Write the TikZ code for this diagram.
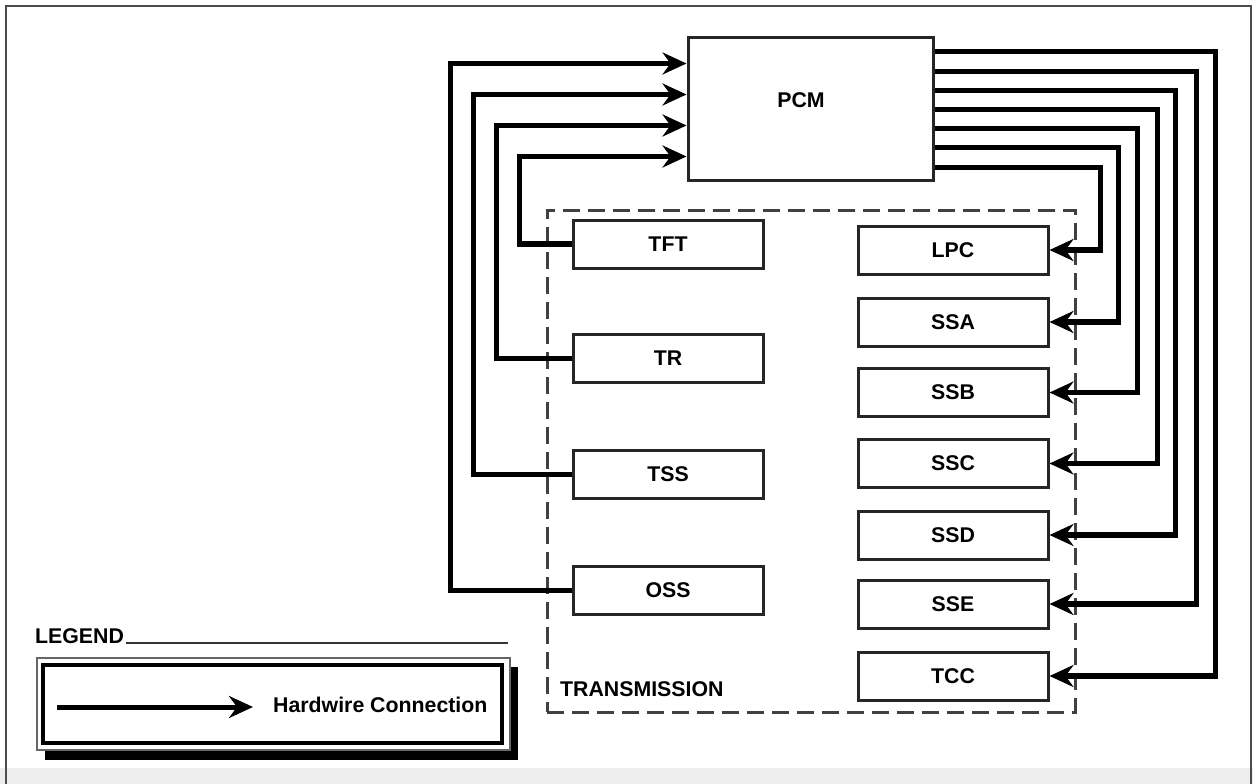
\documentclass[tikz,border=0pt]{standalone}
\usepackage{fontspec}
\setmainfont{Liberation Sans}
\usetikzlibrary{arrows.meta}
\newcommand{\labfont}{\fontsize{21.3}{25}\selectfont\bfseries}
\tikzset{
  box/.style={draw=black!85, line width=3pt, fill=white, minimum width=190pt,
    minimum height=48pt, inner sep=0pt, font=\labfont},
  tip/.style={-{Stealth[length=24pt,width=22pt,inset=8pt]}},
  wire/.style={line width=5.5pt, tip},
  txt/.style={font=\labfont, inner sep=0pt},
}
\begin{document}
\begin{tikzpicture}[x=1pt,y=-1pt]
\useasboundingbox (0,0) rectangle (1253,784);
\fill[white] (0,0) rectangle (1253,784);
\fill[black!7] (0,768) rectangle (1253,784);
\draw[black!70, line width=1.8pt] (6,784) -- (6,6) -- (1251,6) -- (1251,784);

% transmission dashed enclosure
\node[draw=black!75, dash pattern=on 17pt off 8pt, line width=3pt,
  minimum width=528pt, minimum height=502pt, inner sep=0pt] (trans) at (811,461) {};
\node[txt, anchor=west] (translabel) at (560,689) {TRANSMISSION};

% PCM
\node[box, minimum width=245pt, minimum height=142pt,
  label={[txt, xshift=-9.5pt, yshift=9pt]center:PCM}] (pcm) at (810.5,109) {};

% left boxes
\node[box] (tft) at (668,244) {TFT};
\node[box] (tr)  at (668,358.5) {TR};
\node[box] (tss) at (668,474.5) {TSS};
\node[box] (oss) at (668,590.5) {OSS};

% right boxes
\node[box] (lpc) at (953,250) {LPC};
\node[box] (ssa) at (953,322) {SSA};
\node[box] (ssb) at (953,392.5) {SSB};
\node[box] (ssc) at (953,463.5) {SSC};
\node[box] (ssd) at (953,535) {SSD};
\node[box] (sse) at (953,604) {SSE};
\node[box] (tcc) at (953,676) {TCC};

% inputs to PCM
\draw[wire] (tft.west) -| ([xshift=-167pt,yshift=-120pt]pcm.north west) -- ([yshift=-120pt]pcm.north west);
\draw[wire] (tr.west)  -| ([xshift=-190pt,yshift=-89pt]pcm.north west) -- ([yshift=-89pt]pcm.north west);
\draw[wire] (tss.west) -| ([xshift=-213pt,yshift=-58pt]pcm.north west) -- ([yshift=-58pt]pcm.north west);
\draw[wire] (oss.west) -| ([xshift=-236pt,yshift=-27pt]pcm.north west) -- ([yshift=-27pt]pcm.north west);

% outputs from PCM
\draw[wire] ([yshift=-131pt]pcm.north east) -| ([xshift=51pt]lpc.east) -- (lpc.east);
\draw[wire] ([yshift=-111pt]pcm.north east) -| ([xshift=69pt]ssa.east) -- (ssa.east);
\draw[wire] ([yshift=-92pt]pcm.north east)  -| ([xshift=88pt]ssb.east) -- (ssb.east);
\draw[wire] ([yshift=-73pt]pcm.north east)  -| ([xshift=108pt]ssc.east) -- (ssc.east);
\draw[wire] ([yshift=-54pt]pcm.north east)  -| ([xshift=126pt]ssd.east) -- (ssd.east);
\draw[wire] ([yshift=-35pt]pcm.north east)  -| ([xshift=147pt]sse.east) -- (sse.east);
\draw[wire] ([yshift=-15pt]pcm.north east)  -| ([xshift=166pt]tcc.east) -- (tcc.east);

% legend
\node[txt, anchor=base west] (legend) at (35,643) {LEGEND};
\draw[black!80, line width=2.5pt] ([xshift=2pt]legend.base east) -- (508,643);
\fill[black] (45,667) rectangle (518,760);
\draw[black!60, line width=1.5pt, fill=white] (37,658) rectangle (510,750);
\draw[black, line width=4.5pt] (43,665) rectangle (502,743);
\coordinate (lgA) at (57,707);
\coordinate (lgB) at (253,707);
\draw[line width=5pt, tip] (lgA) -- (lgB);
\node[txt, anchor=west] (hw) at (273,705) {Hardwire Connection};
\end{tikzpicture}
\end{document}
